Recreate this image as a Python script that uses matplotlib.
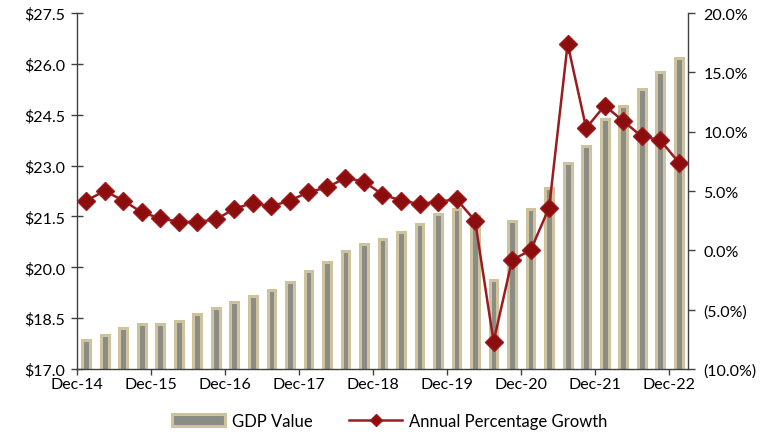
import numpy as np
import matplotlib.pyplot as plt
from matplotlib.ticker import FuncFormatter, MultipleLocator

plt.rcParams['font.family'] = ['Lato', 'DejaVu Sans']

# Quarterly data, Dec-14 .. Dec-22
quarters = ['Dec-14', 'Mar-15', 'Jun-15', 'Sep-15', 'Dec-15', 'Mar-16', 'Jun-16', 'Sep-16',
            'Dec-16', 'Mar-17', 'Jun-17', 'Sep-17', 'Dec-17', 'Mar-18', 'Jun-18', 'Sep-18',
            'Dec-18', 'Mar-19', 'Jun-19', 'Sep-19', 'Dec-19', 'Mar-20', 'Jun-20', 'Sep-20',
            'Dec-20', 'Mar-21', 'Jun-21', 'Sep-21', 'Dec-21', 'Mar-22', 'Jun-22', 'Sep-22',
            'Dec-22']
gdp_value = [17.86, 17.99, 18.21, 18.32, 18.33, 18.43, 18.61, 18.80,
             18.98, 19.15, 19.32, 19.58, 19.90, 20.17, 20.47, 20.70,
             20.82, 21.03, 21.29, 21.56, 21.71, 21.50, 19.63, 21.38,
             21.72, 22.33, 23.08, 23.58, 24.37, 24.77, 25.26, 25.77,
             26.17]
growth_pct = [4.2, 5.0, 4.2, 3.2, 2.7, 2.4, 2.4, 2.6,
              3.5, 4.0, 3.7, 4.2, 4.9, 5.3, 6.1, 5.8,
              4.7, 4.2, 3.9, 4.1, 4.3, 2.5, -7.7, -0.8,
              0.0, 3.6, 17.4, 10.3, 12.2, 10.9, 9.6, 9.3,
              7.4]
tick_labels = ['Dec-14', 'Dec-15', 'Dec-16', 'Dec-17', 'Dec-18',
               'Dec-19', 'Dec-20', 'Dec-21', 'Dec-22']

fig = plt.figure(figsize=(7.64, 4.35), dpi=100)
ax = fig.add_axes([0.1008, 0.1494, 0.7997, 0.8184])
ax2 = ax.twinx()

x = list(range(len(quarters)))
bars = ax.bar(x, gdp_value, width=0.42, color='#8c8c86', edgecolor='#cdc49f',
              linewidth=2.2, label='GDP Value')
line, = ax2.plot(x, growth_pct, color='#9b1c1f', linewidth=1.8, marker='D',
                 markersize=9, markerfacecolor='#8b0d0d', markeredgecolor='#9b1c1f',
                 label='Annual Percentage Growth')

ax.set_xlim(-0.5, len(quarters) - 0.5)
ax.set_ylim(17.0, 27.5)
ax.set_yticks(np.arange(17.0, 27.6, 1.5))
ax.yaxis.set_major_formatter(FuncFormatter(lambda v, p: f'${v:.1f}'))

ax2.set_ylim(-10, 20)
ax2.yaxis.set_major_locator(MultipleLocator(5))


def pct(v, p):
    if v < -1e-9:
        return f'({abs(v):.1f}%)'
    return f'{abs(v):.1f}%'


ax2.yaxis.set_major_formatter(FuncFormatter(pct))

ax.set_xticks([i * 4 - 0.5 for i in range(len(tick_labels))])
ax.set_xticklabels(tick_labels)

for a in (ax, ax2):
    a.spines['top'].set_visible(False)
    for s in a.spines.values():
        s.set_color('#404040')
        s.set_linewidth(1.0)
ax.spines['right'].set_visible(False)
ax2.spines['left'].set_visible(False)
ax2.spines['bottom'].set_visible(False)

ax.tick_params(axis='y', direction='inout', length=9, width=1, color='#404040',
               labelsize=11.5, pad=4)
ax.tick_params(axis='x', direction='out', length=4, width=1, color='#404040',
               labelsize=11.5, pad=2)
ax2.tick_params(axis='y', direction='out', length=5, width=1, color='#404040',
                labelsize=11.5, pad=6)

fig.legend([bars, line], ['GDP Value', 'Annual Percentage Growth'],
           loc='center', bbox_to_anchor=(0.51, 0.03), ncol=2, frameon=False,
           fontsize=12, handlelength=3.2, columnspacing=2.2, handletextpad=0.4,
           markerscale=0.7)

fig.savefig('out.png', dpi=100)
